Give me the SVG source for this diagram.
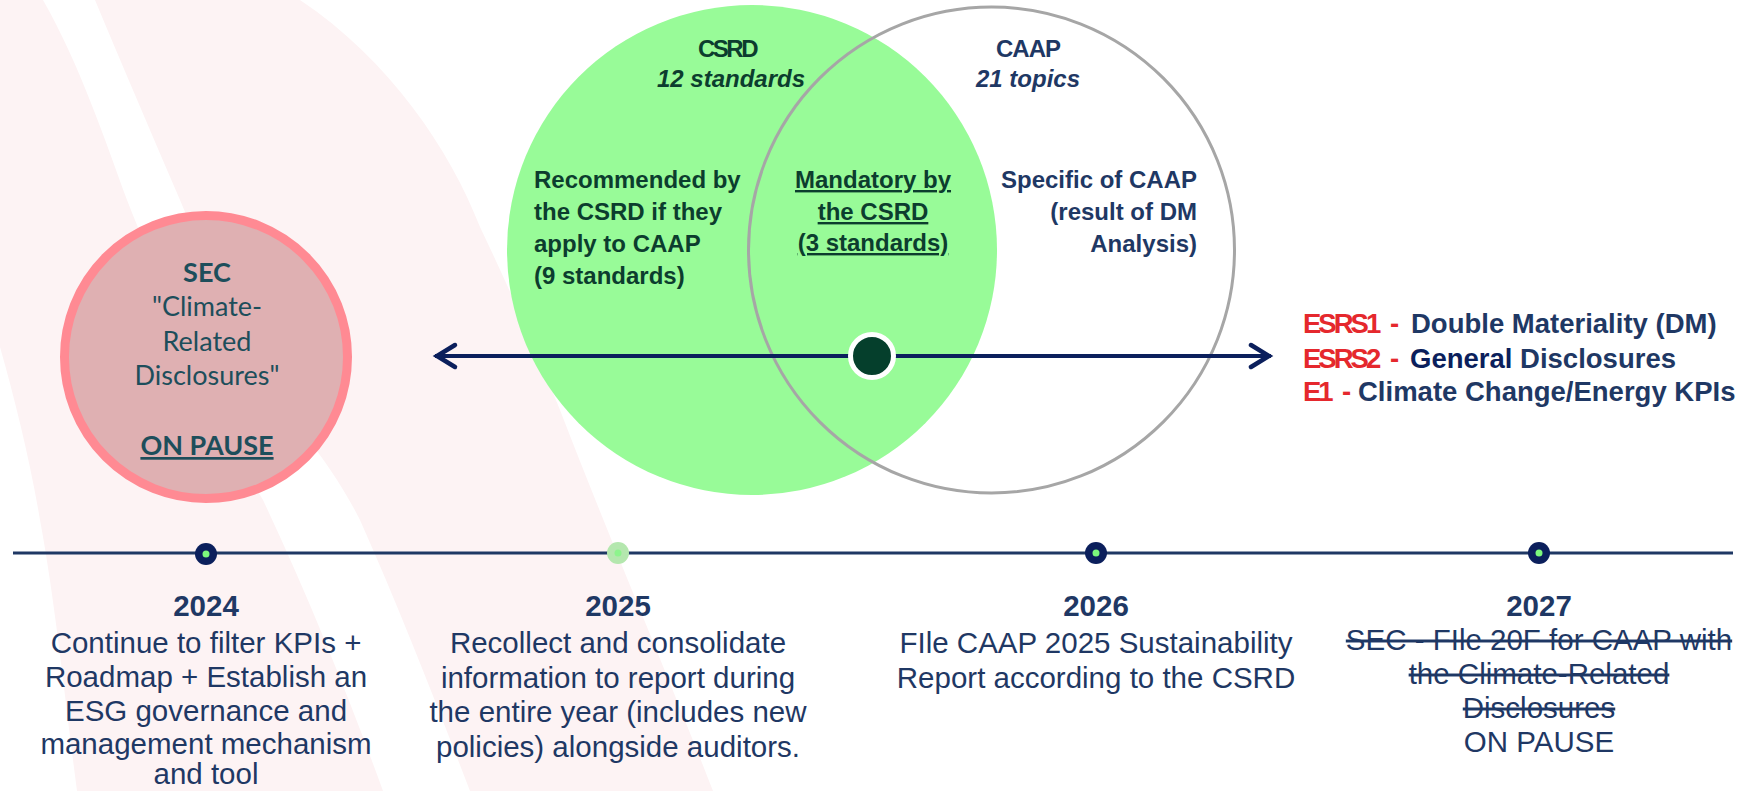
<svg xmlns="http://www.w3.org/2000/svg" width="1746" height="791" viewBox="0 0 1746 791">
<defs>
<style>
.bg{fill:#FDF3F4}
.vt{font-family:"Liberation Sans",Arial,sans-serif;font-weight:bold;font-size:24px}
.g{fill:#0C3D2E}
.n{fill:#1F3864}
.tl{font-family:"Liberation Sans",Arial,sans-serif;font-size:29.5px;fill:#1F3864;text-anchor:middle}
.yr{font-weight:bold}
.esrs{font-family:"Liberation Sans",Arial,sans-serif;font-weight:bold;font-size:27.5px}
.red{fill:#E5282D}
.sec{font-family:Lato,"Open Sans",sans-serif;font-size:27px;fill:#1D4E5B;text-anchor:middle}
.navydot{fill:#0B1F5C}
.inner{fill:#7CF87C}
</style>
<marker id="chev" markerUnits="userSpaceOnUse" markerWidth="30" markerHeight="30" viewBox="-26 -15 30 30" refX="0" refY="0" orient="auto-start-reverse">
<path d="M-20,-11 L-2,0 L-20,11" fill="none" stroke="#0B1F5C" stroke-width="4.5" stroke-linecap="round"/>
</marker>
</defs>
<rect width="1746" height="791" fill="#FFFFFF"/>
<g id="background">
<path class="bg" d="M0,0 L43,0 C80,65 105,140 127,200 C150,260 180,320 200,370 C225,430 245,470 263,500 C310,600 350,700 383,791 L77,791 C65,700 55,600 40,520 C30,460 15,400 0,347 Z"/>
<path class="bg" d="M95,0 L300,0 C390,60 450,150 480,227 C515,300 540,360 560,410 C610,540 670,680 713,791 L470,791 C435,700 400,610 360,520 C330,460 290,420 260,370 C230,310 205,260 180,200 C150,130 120,60 95,0 Z"/>
</g>
<g id="node-sec">
<circle cx="206" cy="357" r="141.5" fill="#DFB0B2" stroke="#FF8A93" stroke-width="9"/>
<text class="sec" x="207" y="282" font-weight="bold">SEC</text>
<text class="sec" x="207" y="315.5">"Climate-</text>
<text class="sec" x="207" y="351">Related</text>
<text class="sec" x="207" y="385">Disclosures"</text>
<text class="sec" x="207" y="455" font-weight="bold" text-decoration="underline">ON PAUSE</text>
</g>
<g id="node-csrd">
<circle cx="752" cy="250" r="245" fill="#98FB98"/>
</g>
<g id="node-caap">
<circle cx="991.5" cy="250" r="243" fill="none" stroke="#A6A6A6" stroke-width="3"/>
</g>
<g id="connectors">
<line x1="435" y1="356" x2="1271" y2="356" stroke="#0B1F5C" stroke-width="4" marker-start="url(#chev)" marker-end="url(#chev)"/>
<line x1="13" y1="553" x2="1733" y2="553" stroke="#1F3864" stroke-width="3"/>
</g>
<g id="venn-labels">
<text class="vt g" x="727" y="57" text-anchor="middle" letter-spacing="-2.5">CSRD</text>
<text class="vt g" x="731" y="87" text-anchor="middle" font-style="italic">12 standards</text>
<text class="vt n" x="1028" y="57" text-anchor="middle" letter-spacing="-1">CAAP</text>
<text class="vt n" x="1028" y="87" text-anchor="middle" font-style="italic">21 topics</text>
<text class="vt g" x="534" y="188">Recommended by</text>
<text class="vt g" x="534" y="220">the CSRD if they</text>
<text class="vt g" x="534" y="252">apply to CAAP</text>
<text class="vt g" x="534" y="283.5">(9 standards)</text>
<text class="vt g" x="873" y="188" text-anchor="middle" text-decoration="underline">Mandatory by</text>
<text class="vt g" x="873" y="220" text-anchor="middle" text-decoration="underline">the CSRD</text>
<text class="vt g" x="873" y="251" text-anchor="middle" text-decoration="underline">(3 standards)</text>
<text class="vt n" x="1197" y="188" text-anchor="end">Specific of CAAP</text>
<text class="vt n" x="1197" y="220" text-anchor="end">(result of DM</text>
<text class="vt n" x="1197" y="252" text-anchor="end">Analysis)</text>
</g>
<g id="node-center-dot">
<circle cx="872" cy="356" r="21.5" fill="#053F2C" stroke="#FFFFFF" stroke-width="5"/>
</g>
<g id="node-esrs">
<text class="esrs" y="333"><tspan class="red" x="1303" letter-spacing="-3">ESRS1</tspan><tspan class="red" x="1390">-</tspan><tspan class="n" x="1411">Double Materiality (DM)</tspan></text>
<text class="esrs" y="367.5"><tspan class="red" x="1303" letter-spacing="-3">ESRS2</tspan><tspan class="red" x="1390">-</tspan><tspan x="1410" fill="#0B1F5C">General</tspan><tspan class="n"> Disclosures</tspan></text>
<text class="esrs" y="401"><tspan class="red" x="1303" letter-spacing="-3">E1</tspan><tspan class="red" x="1342">-</tspan><tspan class="n" x="1358">Climate Change/Energy KPIs</tspan></text>
</g>
<g id="node-2024">
<circle class="navydot" cx="206" cy="554" r="11"/>
<circle class="inner" cx="206" cy="554" r="3.5"/>
<text class="tl yr" x="206" y="616">2024</text>
<text class="tl" x="206" y="653">Continue to filter KPIs +</text>
<text class="tl" x="206" y="687">Roadmap + Establish an</text>
<text class="tl" x="206" y="720.5">ESG governance and</text>
<text class="tl" x="206" y="753.5">management mechanism</text>
<text class="tl" x="206" y="784">and tool</text>
</g>
<g id="node-2025">
<circle cx="618" cy="553" r="11" fill="#B4E7AE"/>
<circle cx="618" cy="553" r="3.5" fill="#8DF48D"/>
<text class="tl yr" x="618" y="616">2025</text>
<text class="tl" x="618" y="653">Recollect and consolidate</text>
<text class="tl" x="618" y="687.5">information to report during</text>
<text class="tl" x="618" y="722">the entire year (includes new</text>
<text class="tl" x="618" y="756.5">policies) alongside auditors.</text>
</g>
<g id="node-2026">
<circle class="navydot" cx="1096" cy="553" r="11"/>
<circle class="inner" cx="1096" cy="553" r="3.5"/>
<text class="tl yr" x="1096" y="616">2026</text>
<text class="tl" x="1096" y="653">FIle CAAP 2025 Sustainability</text>
<text class="tl" x="1096" y="687.5">Report according to the CSRD</text>
</g>
<g id="node-2027">
<circle class="navydot" cx="1539" cy="553" r="11"/>
<circle class="inner" cx="1539" cy="553" r="3.5"/>
<text class="tl yr" x="1539" y="616">2027</text>
<text class="tl" x="1539" y="650" text-decoration="line-through">SEC - FIle 20F for CAAP with</text>
<text class="tl" x="1539" y="684" text-decoration="line-through">the Climate-Related</text>
<text class="tl" x="1539" y="718" text-decoration="line-through">Disclosures</text>
<text class="tl" x="1539" y="752">ON PAUSE</text>
</g>
</svg>
